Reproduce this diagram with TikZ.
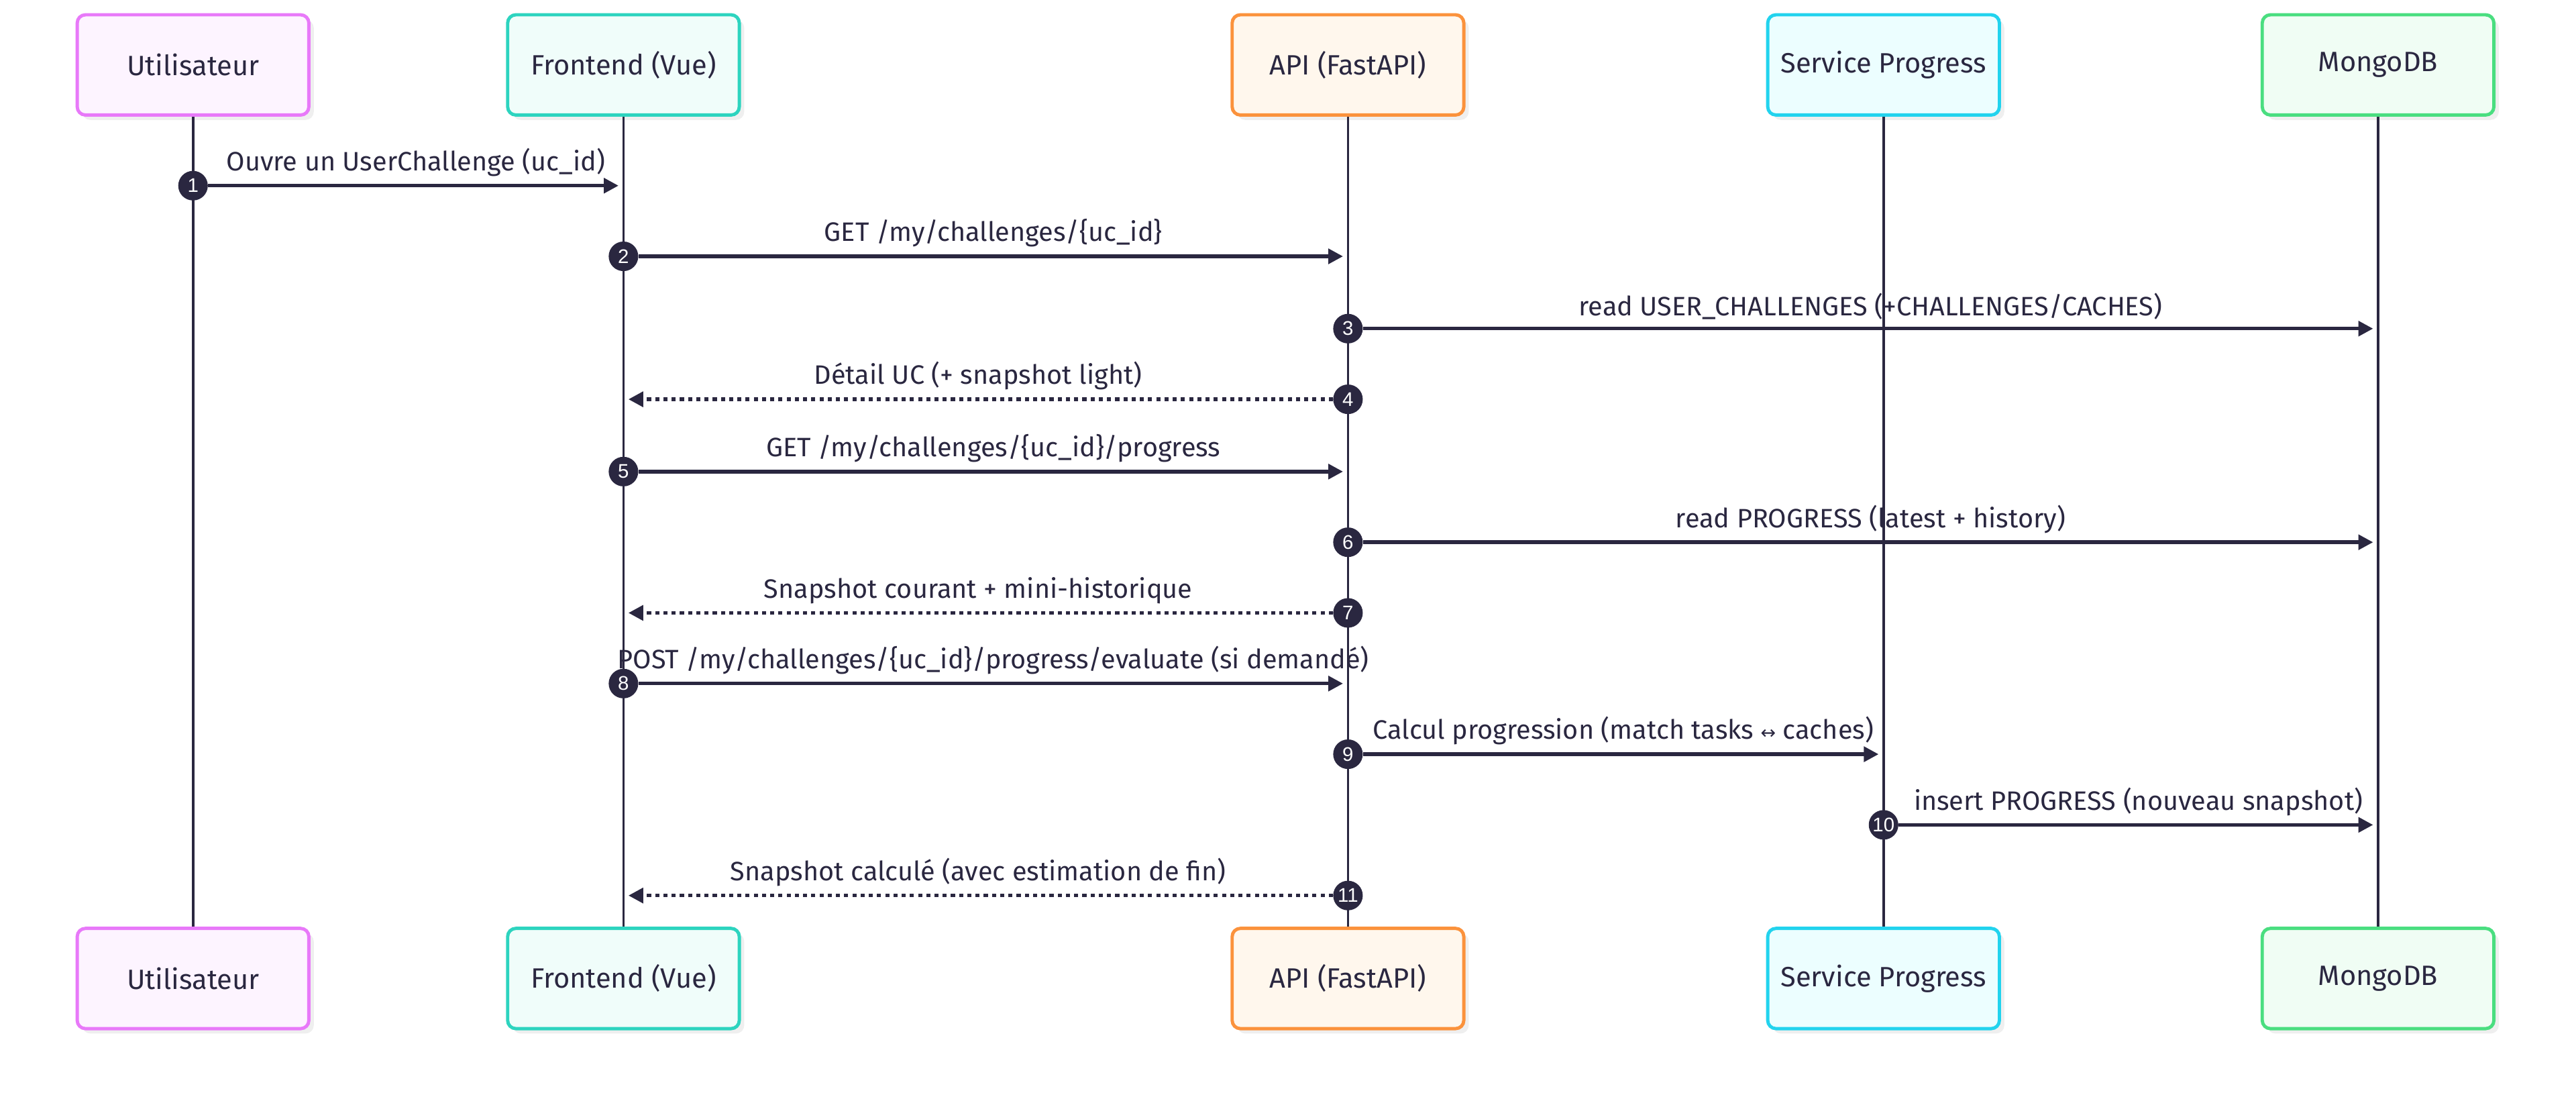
\documentclass[tikz,border=0pt]{standalone}
\usepackage{fontspec}
\setmainfont{Fira Sans}
\newfontfamily\numfont{Liberation Sans}
\newfontfamily\symfont{DejaVu Sans}
\usetikzlibrary{arrows.meta,shadows}
\definecolor{ink}{HTML}{2A2740}
\definecolor{uB}{HTML}{E879F9}\definecolor{uF}{HTML}{FDF4FF}
\definecolor{fB}{HTML}{2DD4BF}\definecolor{fF}{HTML}{F0FDFA}
\definecolor{aB}{HTML}{FB923C}\definecolor{aF}{HTML}{FFF7ED}
\definecolor{sB}{HTML}{22D3EE}\definecolor{sF}{HTML}{ECFEFF}
\definecolor{mB}{HTML}{4ADE80}\definecolor{mF}{HTML}{F0FDF4}
\definecolor{shade}{HTML}{EFEFEF}
\tikzset{
  actor/.style={draw, line width=2pt, rounded corners=5pt, minimum width=141pt, minimum height=61pt,
    inner sep=0pt, text=ink, font=\fontsize{17}{20}\selectfont,
    drop shadow={shadow xshift=3pt, shadow yshift=-3pt, fill=shade, opacity=1}},
  life/.style={draw=ink, line width=1.5pt},
  msg/.style={draw=ink, line width=2.2pt, -{Triangle[length=9pt,width=9pt]}, shorten >=3pt},
  ret/.style={msg, dash pattern=on 2.5pt off 2.5pt},
  num/.style={circle, fill=ink, minimum size=18pt, inner sep=0pt, text=white, font=\numfont\fontsize{12}{14}\selectfont},
  lbl/.style={text=ink, font=\fontsize{16.2}{19}\selectfont, inner sep=0pt, above=4.5pt}
}
\begin{document}
\begin{tikzpicture}[x=1pt,y=-1pt]
\useasboundingbox (0,0) rectangle (1568,666);
% top actors
\node[actor, draw=uB, fill=uF] (uT) at (117.5,39.5) {Utilisateur};
\node[actor, draw=fB, fill=fF] (fT) at (379.5,39.5) {Frontend (Vue)};
\node[actor, draw=aB, fill=aF] (aT) at (820.5,39.5) {API (FastAPI)};
\node[actor, draw=sB, fill=sF] (sT) at (1146.5,39.5) {Service Progress};
\node[actor, draw=mB, fill=mF] (mT) at (1447.5,39.5) {MongoDB};
% bottom actors
\node[actor, draw=uB, fill=uF] (uBo) at (117.5,595.5) {Utilisateur};
\node[actor, draw=fB, fill=fF] (fBo) at (379.5,595.5) {Frontend (Vue)};
\node[actor, draw=aB, fill=aF] (aBo) at (820.5,595.5) {API (FastAPI)};
\node[actor, draw=sB, fill=sF] (sBo) at (1146.5,595.5) {Service Progress};
\node[actor, draw=mB, fill=mF] (mBo) at (1447.5,595.5) {MongoDB};
% lifelines
\draw[life] (uT.south) -- (uBo.north);
\draw[life] (fT.south) -- (fBo.north);
\draw[life] (aT.south) -- (aBo.north);
\draw[life] (sT.south) -- (sBo.north);
\draw[life] (mT.south) -- (mBo.north);
% message start circles
\node[num] (n1) at (117.5,113) {1};
\node[num] (n2) at (379.5,156) {2};
\node[num] (n3) at (820.5,200) {3};
\node[num] (n4) at (820.5,243) {4};
\node[num] (n5) at (379.5,287) {5};
\node[num] (n6) at (820.5,330) {6};
\node[num] (n7) at (820.5,373) {7};
\node[num] (n8) at (379.5,416) {8};
\node[num] (n9) at (820.5,459) {9};
\node[num] (n10) at (1146.5,502) {10};
\node[num] (n11) at (820.5,545) {11};
% messages
\draw[msg] (n1) -- node[lbl] {Ouvre un UserChallenge (uc\_id)} (n1 -| fT);
\draw[msg] (n2) -- node[lbl] {GET /my/challenges/\{uc\_id\}} (n2 -| aT);
\draw[msg] (n3) -- node[lbl] {read USER\_CHALLENGES (+CHALLENGES/CACHES)} (n3 -| mT);
\draw[ret] (n4) -- node[lbl] {Détail UC (+ snapshot light)} (n4 -| fT);
\draw[msg] (n5) -- node[lbl] {GET /my/challenges/\{uc\_id\}/progress} (n5 -| aT);
\draw[msg] (n6) -- node[lbl] {read PROGRESS (latest + history)} (n6 -| mT);
\draw[ret] (n7) -- node[lbl] {Snapshot courant + mini-historique} (n7 -| fT);
\draw[msg] (n8) -- node[lbl] {POST /my/challenges/\{uc\_id\}/progress/evaluate (si demandé)} (n8 -| aT);
\draw[msg] (n9) -- node[lbl] {Calcul progression (match tasks {\symfont\fontsize{11}{12}\selectfont ↔} caches)} (n9 -| sT);
\draw[msg] (n10) -- node[lbl] {insert PROGRESS (nouveau snapshot)} (n10 -| mT);
\draw[ret] (n11) -- node[lbl] {Snapshot calculé (avec estimation de fin)} (n11 -| fT);
\end{tikzpicture}
\end{document}
